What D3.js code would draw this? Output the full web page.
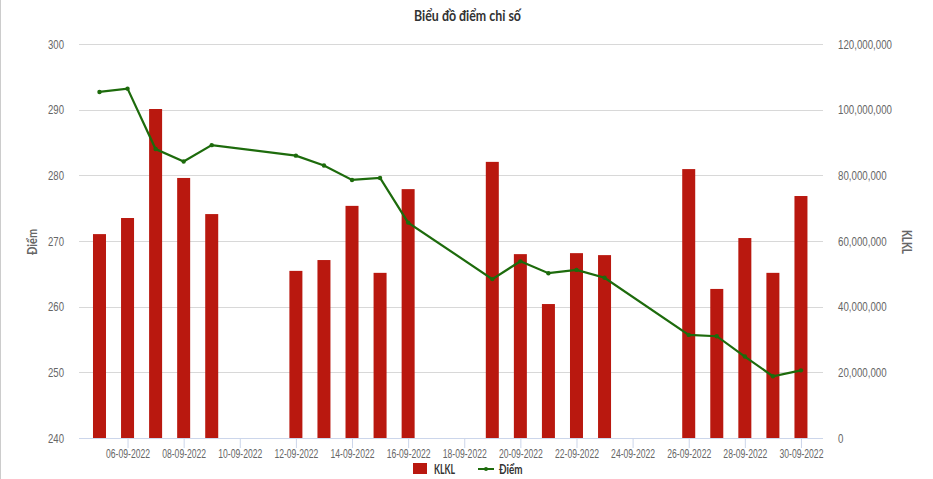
<!DOCTYPE html>
<html><head><meta charset="utf-8">
<script src="https://cdn.jsdelivr.net/npm/d3@7"></script>
<style>
body{margin:0;background:#fff;}
svg{display:block;font-family:"Lato","Liberation Sans",sans-serif;}
</style></head><body>
<svg id="c" width="933" height="479"></svg>
<script>
const dates = ["05-09-2022","06-09-2022","07-09-2022","08-09-2022","09-09-2022",
"12-09-2022","13-09-2022","14-09-2022","15-09-2022","16-09-2022",
"19-09-2022","20-09-2022","21-09-2022","22-09-2022","23-09-2022",
"26-09-2022","27-09-2022","28-09-2022","29-09-2022","30-09-2022"];
const klkl = [62100000,67000000,100200000,79200000,68200000,
50900000,54200000,70700000,50300000,75800000,
84100000,56000000,40800000,56300000,55700000,
81900000,45400000,60900000,50300000,73700000];
const diem = [292.7,293.2,284.0,282.1,284.6,
283.0,281.5,279.3,279.6,272.8,
264.2,266.9,265.1,265.6,264.4,
255.7,255.5,252.4,249.4,250.3];
const leftTicks = [240,250,260,270,280,290,300];
const rightTicks = [0,20000000,40000000,60000000,80000000,100000000,120000000];
const xTickLabels = ["06-09-2022","08-09-2022","10-09-2022","12-09-2022","14-09-2022","16-09-2022","18-09-2022","20-09-2022","22-09-2022","24-09-2022","26-09-2022","28-09-2022","30-09-2022"];

const parse = d3.timeParse("%d-%m-%Y");
const fmtDate = d3.timeFormat("%d-%m-%Y");
const DAY = 86400000;
const pts = dates.map(parse);
const svg = d3.select("#c");
const L = 79, R = 822, T = 44, B = 438;

// squeeze text horizontally (condensed look) using a transform
function squeeze(sel, targetW, refNatural, pre) {
  sel.each(function(){
    const w = this.getComputedTextLength();
    const f = targetW / (refNatural || w);
    const s = d3.select(this);
    const tx = +s.attr("x") || 0, ty = +s.attr("y") || 0;
    s.attr("x", 0).attr("y", 0)
     .attr("transform", `translate(${tx},${ty}) ${pre || ""} scale(${f},1)`);
  });
}

const x = d3.scaleTime()
  .domain([new Date(pts[0].getTime() - 0.73*DAY), new Date(pts[pts.length-1].getTime() + 0.75*DAY)])
  .range([L, R]);
const yL = d3.scaleLinear().domain([240,300]).range([B,T]);
const yR = d3.scaleLinear().domain([0,120000000]).range([B,T]);

// left border
svg.append("line").attr("x1",0.5).attr("x2",0.5).attr("y1",0).attr("y2",479).attr("stroke","#ccc");

// title
const title = svg.append("text").attr("x",467.5).attr("y",21).attr("text-anchor","middle")
  .attr("font-size",14.5).attr("font-weight","bold").attr("fill","#333").text("Biểu đồ điểm chỉ số");
squeeze(title, 107);

// gridlines
svg.append("g").selectAll("line").data(leftTicks).join("line")
  .attr("x1",L).attr("x2",R+1).attr("y1",d=>Math.round(yL(d))+0.5).attr("y2",d=>Math.round(yL(d))+0.5)
  .attr("stroke","#d8d8d8");

// left axis
const gl = svg.append("g").attr("transform",`translate(${L-15},0)`)
  .call(d3.axisLeft(yL).tickValues(leftTicks).tickSize(0).tickPadding(0).tickFormat(d3.format("d")));
gl.select(".domain").remove();
gl.selectAll("text").attr("font-size",12.5).attr("fill","#666").attr("font-family","inherit");
squeeze(gl.selectAll("text"), 16, gl.select("text").node().getComputedTextLength());

// right axis
const gr = svg.append("g").attr("transform",`translate(${R+16},0)`)
  .call(d3.axisRight(yR).tickValues(rightTicks).tickSize(0).tickPadding(0).tickFormat(d3.format(",")));
gr.select(".domain").remove();
gr.selectAll("text").attr("font-size",12.5).attr("fill","#666").attr("font-family","inherit");
{
  const nodes = gr.selectAll("text").nodes();
  const longest = nodes[nodes.length-1].getComputedTextLength();
  squeeze(gr.selectAll("text"), 54, longest);
}

// axis titles
const tl = svg.append("text").attr("x",37).attr("y",242).attr("text-anchor","middle")
  .attr("font-size",13).attr("font-weight","bold").attr("fill","#666").text("Điểm");
squeeze(tl, 26, null, "rotate(-90)");
const tr = svg.append("text").attr("x",902).attr("y",242).attr("text-anchor","middle")
  .attr("font-size",13).attr("font-weight","bold").attr("fill","#666").text("KLKL");
squeeze(tr, 24, null, "rotate(90)");

// bars
const bw = 13;
svg.append("g").selectAll("rect").data(pts).join("rect")
  .attr("x",(d)=>x(d)-bw/2).attr("width",bw)
  .attr("y",(d,i)=>yR(klkl[i])).attr("height",(d,i)=>B-yR(klkl[i]))
  .attr("fill","#b9180f");

// x axis
const xTicks = xTickLabels.map(parse);
const gx = svg.append("g").attr("transform",`translate(0,${B})`)
  .call(d3.axisBottom(x).tickValues(xTicks).tickSize(10).tickPadding(1).tickFormat(fmtDate));
gx.select(".domain").attr("stroke","#ccd6eb").attr("d",`M${L},0.5H${R+1}`);
gx.selectAll(".tick line").attr("stroke","#ccd6eb");
gx.selectAll("text").attr("font-size",12.5).attr("fill","#666").attr("font-family","inherit");
squeeze(gx.selectAll("text"), 44, gx.select("text").node().getComputedTextLength());

// line
const line = d3.line().x(d=>x(d[0])).y(d=>yL(d[1]));
const ld = pts.map((d,i)=>[d,diem[i]]);
svg.append("path").datum(ld).attr("d",line).attr("fill","none").attr("stroke","#1d6b0c").attr("stroke-width",2.2);
svg.append("g").selectAll("circle").data(ld).join("circle")
  .attr("cx",d=>x(d[0])).attr("cy",d=>yL(d[1])).attr("r",2.2).attr("fill","#1d6b0c");

// legend
const lg = svg.append("g");
lg.append("rect").attr("x",413).attr("y",463).attr("width",14).attr("height",11).attr("fill","#b9180f");
const lt1 = lg.append("text").attr("x",434).attr("y",474).attr("font-size",13).attr("font-weight","bold").attr("fill","#333").text("KLKL");
squeeze(lt1, 21);
lg.append("line").attr("x1",478).attr("x2",494).attr("y1",469).attr("y2",469).attr("stroke","#1d6b0c").attr("stroke-width",2);
lg.append("circle").attr("cx",486).attr("cy",469).attr("r",2).attr("fill","#1d6b0c");
const lt2 = lg.append("text").attr("x",499).attr("y",474).attr("font-size",13).attr("font-weight","bold").attr("fill","#333").text("Điểm");
squeeze(lt2, 23.5);
</script>
</body></html>
